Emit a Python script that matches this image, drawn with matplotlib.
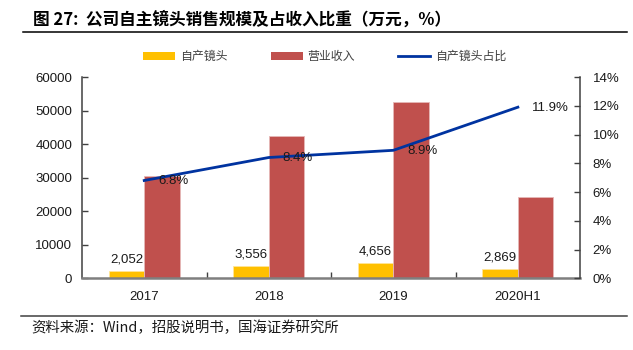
import numpy as np
import matplotlib
matplotlib.use("Agg")
from matplotlib import pyplot as plt
from matplotlib.lines import Line2D
from matplotlib.patches import Patch

plt.rcParams['font.family'] = ['Liberation Sans', 'Noto Sans CJK SC', 'DejaVu Sans']

# Data
years = ["2017", "2018", "2019", "2020H1"]
own_lens = [2052, 3556, 4656, 2869]          # 自产镜头 (万元)
revenue = [30400, 42500, 52400, 24100]       # 营业收入 (万元)
share = [6.8, 8.4, 8.9, 11.9]                # 自产镜头占比 (%)

c_yellow = "#FFC000"
c_red = "#C0504D"
c_blue = "#0033A0"

fig = plt.figure(figsize=(6.33, 3.5), dpi=100)
ax = fig.add_axes([0.1295, 0.205, 0.787, 0.575])
ax2 = ax.twinx()

x = np.arange(len(years))
w = 0.285
ax.bar(x - w / 2, own_lens, w, color=c_yellow, edgecolor="#FFE699", linewidth=0.6, zorder=2)
ax.bar(x + w / 2, revenue, w, color=c_red, edgecolor="#E6B8B7", linewidth=0.6, zorder=2)
for xi, v in zip(x, own_lens):
    ax.annotate("{:,}".format(v), (xi - w / 2, v), xytext=(0, 4), textcoords="offset points",
                ha="center", va="bottom", fontsize=9.5, color="#1a1a1a")

ax2.plot(x, share, color=c_blue, linewidth=2.0, zorder=3)
for xi, v in zip(x, share):
    ax2.annotate("{:.1f}%".format(v), (xi, v), xytext=(10, -0.5), textcoords="offset points",
                 ha="left", va="center", fontsize=9.5, color="#1a1a1a")

ax.set_xlim(-0.5, 3.5)
ax.set_ylim(0, 60000)
ax.set_yticks(np.arange(0, 60001, 10000))
ax2.set_ylim(0, 14)
ax2.set_yticks(np.arange(0, 15, 2))
ax2.set_yticklabels(["{}%".format(t) for t in range(0, 15, 2)])

ax.set_xticks(x)
ax.set_xticklabels(years)
ax.set_xticks([0.5, 1.5, 2.5], minor=True)
ax.tick_params(axis="x", which="major", length=0, pad=9, labelsize=9.5, colors="#1a1a1a")
ax.tick_params(axis="x", which="minor", direction="in", length=4, width=1, color="#404040")
ax.tick_params(axis="y", direction="in", length=4, width=1, pad=7, labelsize=9.5, color="#404040", labelcolor="#1a1a1a")
ax2.tick_params(axis="y", direction="in", length=4, width=1, pad=9, labelsize=9.5, color="#404040", labelcolor="#1a1a1a")

for a in (ax, ax2):
    a.spines["top"].set_visible(False)
    a.set_facecolor("none")
ax.spines["left"].set_color("#404040")
ax.spines["left"].set_linewidth(1.1)
ax.spines["right"].set_visible(False)
ax2.spines["left"].set_visible(False)
ax2.spines["bottom"].set_visible(False)
ax2.spines["right"].set_color("#404040")
ax2.spines["right"].set_linewidth(1.1)
ax.spines["bottom"].set_color("#7F7F7F")
ax.spines["bottom"].set_linewidth(1.8)

handles = [Patch(facecolor=c_yellow, edgecolor="none"),
           Patch(facecolor=c_red, edgecolor="none"),
           Line2D([], [], color=c_blue, linewidth=2.0)]
fig.legend(handles, ["自产镜头", "营业收入", "自产镜头占比"], loc="center",
           bbox_to_anchor=(0.513, 0.838), ncol=3, frameon=False,
           handlelength=2.7, handleheight=0.55, handletextpad=0.4, columnspacing=3.6,
           labelcolor="#404040", prop={"family": ["Noto Sans CJK SC"], "size": 8.6})

# Title and source, with the two rules
fig.text(0.052, 0.943, "图 27:  公司自主镜头销售规模及占收入比重（万元，%）", fontsize=12,
         fontweight="bold", ha="left", va="center", family=["Noto Sans CJK SC", "DejaVu Sans"])
fig.add_artist(Line2D([0.036, 0.991], [0.909, 0.909], color="black", linewidth=1.1))
fig.add_artist(Line2D([0.033, 0.991], [0.097, 0.097], color="#404040", linewidth=1.1))
fig.text(0.05, 0.062, "资料来源：Wind，招股说明书，国海证券研究所", fontsize=10.4,
         ha="left", va="center", color="#1a1a1a", family=["Noto Sans CJK SC", "DejaVu Sans"])

fig.savefig("out.png", dpi=100)
